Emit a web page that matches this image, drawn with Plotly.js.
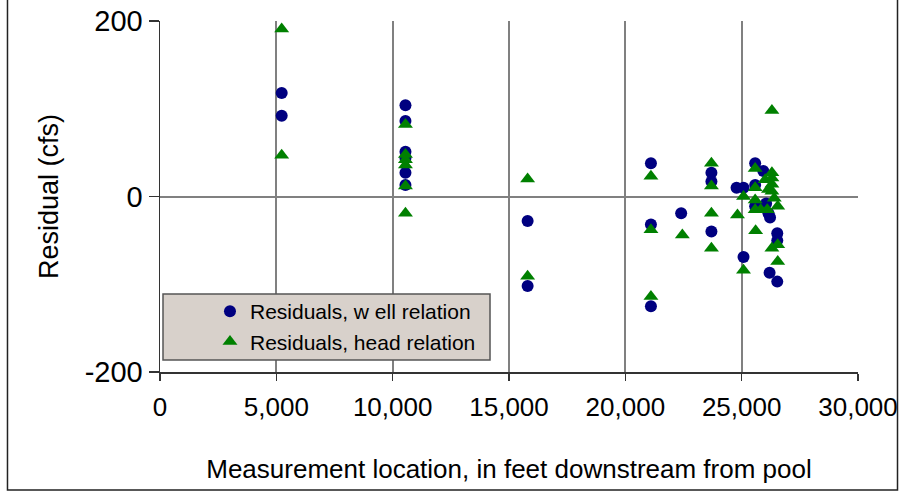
<!DOCTYPE html>
<html>
<head>
<meta charset="utf-8">
<script src="https://cdn.plot.ly/plotly-3.0.1.min.js"></script>
<style>
  html, body { margin: 0; padding: 0; background: #ffffff; }
  #chart { width: 899px; height: 491px; }
</style>
</head>
<body>
<div id="chart"></div>
<script>
// Residuals of the two rating relations along the channel
const wellX = [
  5230, 5230,
  10550, 10550, 10550, 10550, 10550, 10550,
  15800, 15800,
  21100, 21100, 21100,
  22400,
  23700, 23700, 23700,
  24780, 25080, 25080,
  25580, 25580, 25580,
  25930, 26050, 26150, 26220, 26200,
  26530, 26530, 26530
];
const wellY = [
  118, 92,
  104, 86, 51, 44, 27, 13,
  -28, -102,
  38, -32, -125,
  -19,
  27, 17, -40,
  10, 10, -69,
  38, 13, -11,
  29, -8, -19, -24, -87,
  -42, -50, -97
];

const headX = [
  5230, 5230,
  10550, 10550, 10550, 10550, 10550, 10550,
  15800, 15800,
  21100, 21100, 21100,
  22450,
  23700, 23700, 23700, 23700,
  24820, 25080, 25080,
  25580, 25580, 25580, 25580, 25600,
  25820,
  26010, 26100, 26150,
  26300, 26300, 26300, 26300, 26300, 26400, 26300,
  26550, 26550, 26550
];
const headY = [
  191, 47,
  82, 48, 42, 36, 12, -19,
  20, -91,
  23, -38, -114,
  -44,
  38, 12, -19, -59,
  -21, 0, -84,
  32, 10, -4, -15, -39,
  -15,
  19, -15, 8,
  98, 27, 21, 14, 6, -2, -59,
  -11, -55, -74
];

const xTicks = [0, 5000, 10000, 15000, 20000, 25000, 30000];
const yTicks = [-200, 0, 200];
const yTickText = ['-200', '0', '200'];

const FONT = 'Liberation Sans, Arial, Helvetica, sans-serif';
const GRID = '#808080';
const AXIS = '#333333';

const traces = [
  {
    type: 'scatter', mode: 'markers',
    name: 'Residuals, w ell relation',
    x: wellX, y: wellY,
    marker: { symbol: 'circle', size: 12, color: '#000080', line: { width: 0 } },
    cliponaxis: false
  },
  {
    type: 'scatter', mode: 'markers',
    name: 'Residuals, head relation',
    x: headX, y: headY,
    marker: { symbol: 'triangle-up', size: 13, color: '#008000', line: { width: 0 } },
    cliponaxis: false
  }
];

const layout = {
  width: 899, height: 491,
  margin: { l: 160, r: 41, t: 21, b: 119, pad: 0 },
  paper_bgcolor: '#ffffff', plot_bgcolor: '#ffffff',
  font: { family: FONT, color: '#000000' },
  showlegend: true,
  legend: {
    x: 0.0716, y: 0.2308, xanchor: 'left', yanchor: 'top',
    bgcolor: 'rgba(0,0,0,0)', borderwidth: 0,
    font: { family: FONT, size: 21, color: '#000000' },
    itemclick: false
  },
  xaxis: {
    range: [0, 30000], tickvals: xTicks, tickformat: ',d',
    showgrid: true, gridcolor: GRID, gridwidth: 2,
    zeroline: false,
    showline: true, linecolor: AXIS, linewidth: 1.5,
    ticks: 'outside', ticklen: 7, tickcolor: AXIS, tickwidth: 1.5,
    ticklabelstandoff: 4,
    tickfont: { family: FONT, size: 26, color: '#000000' },
    title: { text: 'Measurement location, in feet downstream from pool', font: { family: FONT, size: 26, color: '#000000' }, standoff: 39 }
  },
  yaxis: {
    range: [-200, 200], tickvals: yTicks, ticktext: yTickText,
    showgrid: true, gridcolor: GRID, gridwidth: 2,
    zeroline: true, zerolinecolor: GRID, zerolinewidth: 2,
    showline: true, linecolor: AXIS, linewidth: 1.5,
    ticks: 'outside', ticklen: 10, tickcolor: AXIS, tickwidth: 1.5,
    tickfont: { family: FONT, size: 29, color: '#000000' },
    title: { text: 'Residual (cfs)', font: { family: FONT, size: 27, color: '#000000' }, standoff: 18 }
  },
  shapes: [
    // legend panel
    { type: 'rect', xref: 'paper', yref: 'paper', layer: 'above',
      x0: 0.0043, x1: 0.4728, y0: 0.0342, y1: 0.2222,
      fillcolor: '#d8d1cb', line: { color: '#555555', width: 1.5 } },
    // chart frame
    { type: 'rect', xref: 'paper', yref: 'paper', layer: 'above',
      x0: -0.2185, x1: 1.0566, y0: -0.3362, y1: 1.0655,
      fillcolor: 'rgba(0,0,0,0)', line: { color: '#222222', width: 1.5 } }
  ]
};

Plotly.newPlot('chart', traces, layout, { staticPlot: true, displayModeBar: false });
</script>
</body>
</html>
